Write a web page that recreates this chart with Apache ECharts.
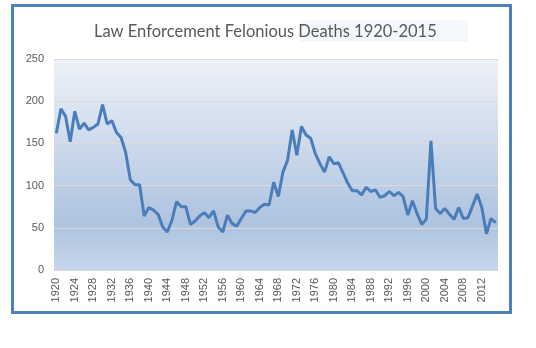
<!DOCTYPE html>
<html>
<head>
<meta charset="utf-8">
<script src="https://cdn.jsdelivr.net/npm/echarts@6/dist/echarts.min.js"></script>
<style>
html,body{margin:0;padding:0;background:#fff;}
#chart{width:536px;height:348px;}
</style>
</head>
<body>
<div id="chart"></div>
<script>
const years = [];
for (let y = 1920; y <= 2015; y++) years.push(String(y));

const deaths = [
  162, 191, 182, 152, 188, 167, 174, 166, 169, 173,
  196, 173, 177, 163, 157, 139, 107, 101, 101, 64,
  74, 71, 66, 51, 45, 59, 81, 75, 75, 54,
  58, 64, 68, 62, 70, 51, 45, 65, 55, 52,
  61, 70, 70, 68, 74, 78, 77, 104, 87, 116,
  130, 166, 136, 170, 160, 156, 138, 126, 116, 134,
  126, 127, 115, 103, 94, 94, 89, 98, 93, 95,
  86, 88, 93, 88, 92, 87, 65, 82, 67, 54,
  60, 153, 73, 67, 73, 66, 60, 74, 61, 62,
  76, 90, 74, 43, 61, 56
];

const yTicks = { min: 0, max: 250, interval: 50 };
const titleText = 'Law Enforcement Felonious Deaths 1920-2015';

const chart = echarts.init(document.getElementById('chart'), null, { renderer: 'canvas' });
chart.setOption({
  animation: false,
  backgroundColor: '#ffffff',
  title: {
    text: titleText,
    left: 89,
    top: 18,
    textStyle: { fontFamily: 'Lato', fontSize: 16.5, fontWeight: 'normal', color: '#595959' }
  },
  graphic: [
    {
      type: 'rect',
      z: -1,
      shape: { x: 300, y: 20, width: 168, height: 22 },
      style: { fill: '#f4f8fc' }
    },
    {
      type: 'rect',
      shape: { x: 12.5, y: 5.5, width: 498, height: 307 },
      style: { fill: 'none', stroke: '#4f81bd', lineWidth: 3 }
    }
  ],
  grid: {
    left: 54, right: 38, top: 59, bottom: 78,
    show: true,
    borderWidth: 0,
    backgroundColor: new echarts.graphic.LinearGradient(0, 0, 0, 1, [
      { offset: 0, color: '#eef2f9' },
      { offset: 0.78, color: '#aec3df' },
      { offset: 1, color: '#c6d6eb' }
    ])
  },
  xAxis: {
    type: 'category',
    data: years,
    boundaryGap: true,
    axisLine: { show: true, lineStyle: { color: '#d9d9d9' } },
    axisTick: { show: false },
    axisLabel: {
      interval: 3,
      rotate: 90,
      margin: 8,
      color: '#595959',
      fontFamily: 'Liberation Sans',
      fontSize: 11
    },
    splitLine: { show: false }
  },
  yAxis: {
    type: 'value',
    min: yTicks.min,
    max: yTicks.max,
    interval: yTicks.interval,
    axisLine: { show: false },
    axisTick: { show: false },
    axisLabel: {
      margin: 10,
      color: '#595959',
      fontFamily: 'Liberation Sans',
      fontSize: 11
    },
    splitLine: { lineStyle: { color: '#d9d9d9', width: 1 } }
  },
  series: [{
    type: 'line',
    data: deaths,
    symbol: 'none',
    smooth: false,
    lineStyle: { color: '#4a7ebb', width: 3 },
    itemStyle: { color: '#4a7ebb' }
  }]
});
</script>
</body>
</html>
